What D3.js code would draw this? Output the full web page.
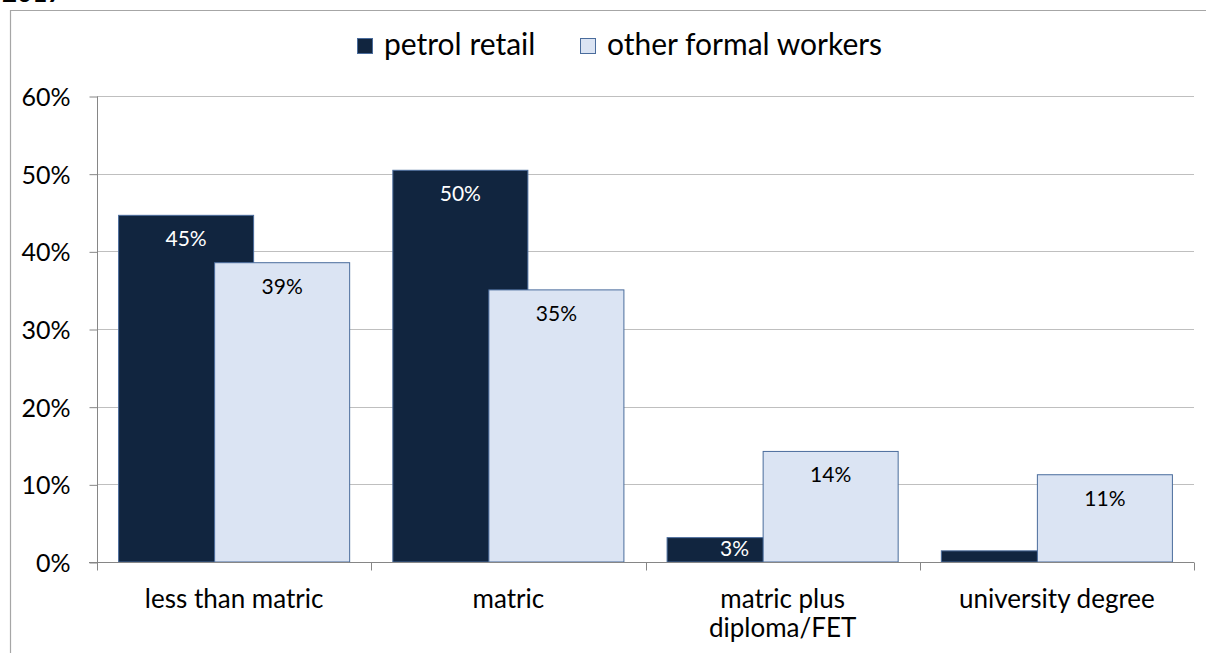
<!DOCTYPE html>
<html>
<head>
<meta charset="utf-8">
<script src="https://cdn.jsdelivr.net/npm/d3@7"></script>
<style>
  html, body { margin: 0; padding: 0; background: #fff; }
  svg { display: block; font-family: Lato, "Open Sans", sans-serif; }
</style>
</head>
<body>
<svg id="chart" width="1206" height="653"></svg>
<script>
// Education level of workers: petrol retail vs other formal workers
const categories = [["less than matric"], ["matric"], ["matric plus", "diploma/FET"], ["university degree"]];
const seriesNames = ["petrol retail", "other formal workers"];
const petrolRetail = [44.7, 50.5, 3.2, 1.5];
const otherFormal = [38.6, 35.1, 14.3, 11.3];
// the smallest bar carries no label
const petrolLabels = ["45%", "50%", "3%", null];
const otherLabels = ["39%", "35%", "14%", "11%"];
const yTicks = [0, 10, 20, 30, 40, 50, 60];

const colors = { petrol: "#11253f", other: "#dbe4f3", edge: "#4a6c9c" };

const svg = d3.select("#chart");
const W = 1206, H = 653;
const plot = { left: 97, right: 1194, top: 96, bottom: 562 };

// heading cut off at the top edge
svg.append("text")
  .attr("x", 2).attr("y", 2)
  .attr("font-size", 26).attr("font-weight", "bold").attr("fill", "#000")
  .text("2017");

// outer frame
svg.append("path")
  .attr("d", `M10.5,${H} V10.5 H${W}`)
  .attr("fill", "none").attr("stroke", "#a6a6a6").attr("stroke-width", 1.2);

const keys = categories.map(c => c.join(" "));
const x = d3.scaleBand().domain(keys).range([plot.left, plot.right]).padding(0);
const y = d3.scaleLinear().domain([0, 60]).range([plot.bottom, plot.top]);

// gridlines
svg.append("g").selectAll("line")
  .data(yTicks.filter(t => t > 0))
  .join("line")
  .attr("x1", plot.left).attr("x2", plot.right)
  .attr("y1", d => Math.round(y(d)) + 0.5).attr("y2", d => Math.round(y(d)) + 0.5)
  .attr("stroke", "#bfbfbf").attr("stroke-width", 1);

// y axis
const yAxis = d3.axisLeft(y).tickValues(yTicks).tickFormat(d => d + "%").tickSize(8).tickPadding(19);
const gy = svg.append("g").attr("transform", `translate(${plot.left + 0.5},0.5)`).call(yAxis);
gy.select(".domain").attr("stroke", "#868686").attr("d", `M-0,${plot.top}V${plot.bottom}`);
gy.selectAll(".tick line").attr("stroke", "#868686");
gy.selectAll(".tick text").attr("font-size", 25).attr("fill", "#000")
  .attr("font-family", "Lato, sans-serif").attr("dy", "0.36em");

// bars
const band = x.bandwidth();
const barW = band * 0.496;
const step = barW * 0.706;
const groupW = barW + step;
const offset0 = (band - groupW) / 2;

const rows = keys.map((k, i) => ({ key: k, petrol: petrolRetail[i], other: otherFormal[i], pl: petrolLabels[i], ol: otherLabels[i] }));

const gBars = svg.append("g");
function drawSeries(field, fill, dx) {
  gBars.append("g").selectAll("rect")
    .data(rows)
    .join("rect")
    .attr("x", d => x(d.key) + offset0 + dx + 0.5)
    .attr("y", d => y(d[field]) + 0.5)
    .attr("width", barW - 1)
    .attr("height", d => y(0) - y(d[field]) - 0.5)
    .attr("fill", fill)
    .attr("stroke", colors.edge).attr("stroke-width", 1);
}
drawSeries("petrol", colors.petrol, 0);
drawSeries("other", colors.other, step);

// value labels inside the top of each bar
function drawLabels(field, labelField, color, dx) {
  svg.append("g").selectAll("text")
    .data(rows.filter(d => d[labelField]))
    .join("text")
    .attr("x", d => x(d.key) + offset0 + dx + barW / 2)
    .attr("y", d => Math.min(y(d[field]) + 24, y(0) - 14))
    .attr("dy", "0.36em")
    .attr("text-anchor", "middle")
    .attr("font-size", 21)
    .attr("fill", color)
    .text(d => d[labelField]);
}
drawLabels("petrol", "pl", "#fff", 0);
drawLabels("other", "ol", "#000", step);

// x axis
const gx = svg.append("g").attr("transform", `translate(0,${plot.bottom + 0.5})`);
gx.append("line").attr("x1", plot.left - 8).attr("x2", plot.right)
  .attr("stroke", "#868686");
const bounds = keys.map(k => x(k)).concat([plot.right]);
gx.selectAll(".tk").data(bounds).join("line")
  .attr("x1", d => Math.round(d) + 0.5).attr("x2", d => Math.round(d) + 0.5)
  .attr("y1", 0).attr("y2", 8).attr("stroke", "#868686");
categories.forEach((lines, i) => {
  const t = gx.append("text")
    .attr("x", x(keys[i]) + band / 2)
    .attr("text-anchor", "middle")
    .attr("font-size", 26).attr("fill", "#000");
  lines.forEach((ln, j) => {
    t.append("tspan").attr("x", x(keys[i]) + band / 2).attr("y", 45 + j * 29).text(ln);
  });
});

// legend
const legend = svg.append("g");
const legendItems = [
  { name: seriesNames[0], fill: colors.petrol, x: 357 },
  { name: seriesNames[1], fill: colors.other, x: 580 }
];
legendItems.forEach(it => {
  legend.append("rect").attr("x", it.x + 0.5).attr("y", 38.5).attr("width", 15).attr("height", 15)
    .attr("fill", it.fill).attr("stroke", colors.edge).attr("stroke-width", 1);
  legend.append("text").attr("x", it.x + 27).attr("y", 55)
    .attr("font-size", 30).attr("fill", "#000").text(it.name);
});
</script>
</body>
</html>
